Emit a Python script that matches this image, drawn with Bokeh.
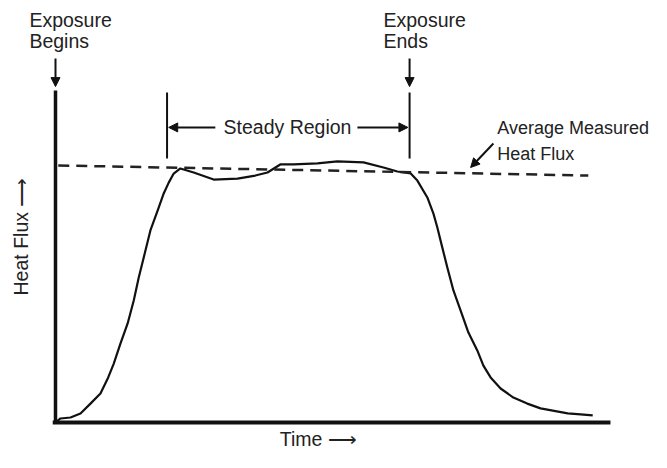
from bokeh.plotting import figure
from bokeh.models import Range1d, Arrow, NormalHead, ColumnDataSource
from bokeh.core.properties import value
from bokeh.embed import file_html
from bokeh.resources import INLINE
import math

# ---- data (time in arbitrary units 0..100, heat flux in arbitrary units) ----
time = [0.0, 0.9, 2.7, 4.5, 6.3, 8.1, 9.5, 10.5, 11.7, 13.0, 14.1, 15.0, 15.9, 17.1,
        18.4, 19.5, 20.4, 21.3, 22.5, 24.9, 28.5, 32.8, 36.0, 38.2, 40.5, 42.9,
        47.2, 50.8, 55.5, 59.1, 61.6, 64.0, 65.2, 67.0, 68.1, 68.8, 69.7, 70.6,
        71.7, 73.0, 74.4, 76.0, 77.1, 78.4, 80.2, 82.5, 85.0, 87.4, 92.3, 94.6, 96.8]
heat_flux = [0.0, 1.6, 2.0, 3.6, 7.5, 11.5, 17.9, 23.4, 31.3, 39.3, 48.4, 57.5, 65.5,
             76.2, 84.1, 90.9, 95.2, 98.8, 100.8, 99.2, 96.4, 96.8, 98.0, 99.2, 102.4,
             102.4, 102.8, 103.6, 103.2, 101.2, 99.6, 98.8, 96.0, 89.3, 82.9, 77.4,
             69.4, 61.5, 52.4, 44.4, 35.7, 28.6, 22.6, 17.9, 13.5, 9.9, 7.5, 5.6, 3.6,
             3.2, 2.8]
avg_time = [0.5, 96.0]
avg_flux = [102.0, 98.0]
exposure_begin = 0.0
exposure_end = 63.8
steady_start = 20.1
steady_end = 63.8
time_max = 100.0
flux_axis_top = 131.7

FONT = value("Liberation Sans")
FS = value("19.5px")
FS_SMALL = value("18px")
TXT = "#222222"
INK = "#111111"

p = figure(width=651, height=452, output_backend="svg", toolbar_location=None,
           x_range=Range1d(-9.91, 107.39), y_range=Range1d(-11.90, 167.46),
           min_border=0, min_border_left=0, min_border_right=0,
           min_border_top=0, min_border_bottom=0)
p.axis.visible = False
p.grid.visible = False
p.outline_line_color = None
p.background_fill_color = "white"
p.border_fill_color = "white"

# axes drawn as thick lines
p.segment(x0=[exposure_begin], y0=[0], x1=[exposure_begin], y1=[flux_axis_top],
          line_width=3.5, line_color=INK)
p.segment(x0=[-0.5], y0=[0], x1=[time_max], y1=[0], line_width=4, line_color=INK)

# heat flux curve
p.line(time, heat_flux, line_width=2.2, line_color=INK, line_join="round")

# average measured line
p.line(avg_time, avg_flux, line_width=2.5, line_color="#222222", line_dash="11 7")

# steady region markers
p.segment(x0=[steady_start, steady_end], y0=[104.8, 104.8],
          x1=[steady_start, steady_end], y1=[131.0, 131.0],
          line_width=2, line_color=INK)

def arrow(x0, y0, x1, y1, size=9):
    p.add_layout(Arrow(end=NormalHead(size=size, fill_color=INK, line_color=INK, line_width=1),
                       x_start=x0, y_start=y0, x_end=x1, y_end=y1,
                       line_width=2, line_color=INK))

# steady region arrows
arrow(28.8, 117.1, steady_start + 0.3, 117.1)
arrow(54.4, 117.1, steady_end - 0.3, 117.1)
# exposure arrows
arrow(exposure_begin, 144.4, exposure_begin, 133.3)
arrow(exposure_end, 144.4, exposure_end, 133.3)
# average pointer
arrow(78.9, 110.7, 74.8, 101.2)

# texts
src = ColumnDataSource(dict(
    x=[-4.7, -4.7, 59.1, 59.1],
    y=[159.9, 151.2, 159.9, 151.2],
    t=["Exposure", "Begins", "Exposure", "Ends"]))
p.text(x="x", y="y", text="t", source=src, text_font=FONT, text_font_size=FS,
       text_color=TXT, text_align="left", text_baseline="middle")

p.text(x=[79.6, 79.6], y=[116.7, 106.7], text=["Average Measured", "Heat Flux"],
       text_font=FONT, text_font_size=FS_SMALL, text_color=TXT,
       text_align="left", text_baseline="middle")

p.text(x=[41.8], y=[117.1], text=["Steady Region"], text_font=FONT, text_font_size=FS,
       text_color=TXT, text_align="center", text_baseline="middle")

p.text(x=[40.4], y=[-6.7], text=["Time \u27f6"], text_font=FONT, text_font_size=FS,
       text_color=TXT, text_align="left", text_baseline="middle")

p.text(x=[-6.3], y=[73.8], text=["Heat Flux \u27f6"], angle=math.pi / 2,
       text_font=FONT, text_font_size=FS, text_color=TXT,
       text_align="center", text_baseline="middle")

open("out.html", "w").write(file_html(p, INLINE))
